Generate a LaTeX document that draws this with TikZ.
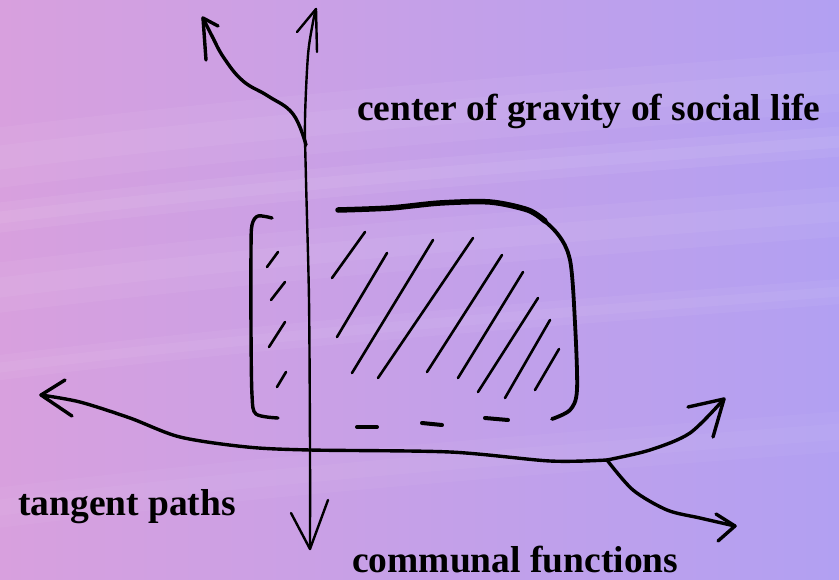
\documentclass[tikz,border=0pt]{standalone}
\usepackage{fontspec}
\setmainfont{Liberation Serif}
\begin{document}
\begin{tikzpicture}[x=1pt,y=-1pt,
  ink/.style={line width=3.4pt,line cap=round,line join=round,black},
  axisink/.style={line width=2.4pt,line cap=round,line join=round,black},
  heavy/.style={line width=5.5pt,line cap=round,line join=round,black},
  hatch/.style={line width=2.6pt,line cap=round,black},
  lbl/.style={inner sep=0pt,anchor=base west,font=\fontsize{37.5}{44}\selectfont\bfseries},
  streak/.style={white,line cap=round}]
% background
\shade[left color={rgb,255:red,216;green,160;blue,222},right color={rgb,255:red,178;green,160;blue,242}] (0,0) rectangle (839,579);
\useasboundingbox (0,0) rectangle (839,579);
\foreach \yy/\w/\o in {120/60/0.05,180/30/0.06,250/50/0.05,330/25/0.05,470/40/0.04}{
  \draw[streak,line width=\w pt,opacity=\o] (-20,\yy+40) .. controls (300,\yy) and (600,\yy-20) .. (860,\yy-40);
  \draw[streak,line width=\w*0.4 pt,opacity=\o] (-20,\yy+40) .. controls (300,\yy) and (600,\yy-20) .. (860,\yy-40);
}
% named points
\coordinate (vbot) at (310,549);
\coordinate (vtop) at (316,9);
\coordinate (split) at (306,145);
\coordinate (ltip) at (203,18);
\coordinate (htipL) at (41,395);
\coordinate (fork) at (607,460);
\coordinate (uptip) at (724,399);
\coordinate (dntip) at (735,526);
% vertical axis
\draw[axisink] plot[smooth] coordinates {(vbot) (310,450) (309,300) (306,180) (305,120) (308,55) (313,22) (vtop)};
\draw[axisink] (297,32) -- (vtop) -- (317,52);
\draw[axisink] (291,513) -- (vbot) -- (328,500);
% left branch on top
\draw[ink] plot[smooth,tension=0.7] coordinates {(split) (293,114) (268,96) (243,81) (224,58) (212,36) (ltip)};
\draw[ink] (218,26) -- (ltip) -- (206,60);
% horizontal line
\draw[ink] plot[smooth] coordinates {(htipL) (80,402) (130,418) (180,437) (247,447) (310,450) (450,452) (550,461) (fork)};
\draw[ink] (65,380) -- (htipL) -- (72,416);
\draw[ink] plot[smooth] coordinates {(fork) (650,450) (690,433) (uptip)};
\draw[ink] (688,407) -- (uptip) -- (713,437);
\draw[ink] plot[smooth] coordinates {(fork) (633,490) (667,510) (700,518) (dntip)};
\draw[ink] (716,514) -- (dntip) -- (718,541);
% box: left bracket
\draw[ink] plot[smooth] coordinates {(272,218) (258,216) (252,225) (251,250) (251,330) (252,395) (256,414) (278,418)};
% box: top and right
\draw[ink,line width=3.8pt] plot[smooth] coordinates {(338,210) (390,208) (440,203) (490,202) (528,210) (556,232) (570,260) (575,323) (577,390) (570,410) (552,419)};
\draw[heavy] plot[smooth] coordinates {(338,210) (390,208) (440,203) (490,202) (528,210) (545,221)};
% bottom dashes
\draw[heavy,line width=4pt] (357,427) -- (377,427);
\draw[heavy,line width=4pt] (422,423) -- (442,425);
\draw[heavy,line width=4pt] (485,418) -- (508,420);
% left hatches
\draw[hatch] (267,267) -- (278,252);
\draw[hatch] (271,300) -- (285,282);
\draw[hatch] (269,347) -- (285,322);
\draw[hatch] (277,387) -- (286,372);
% right hatches
\draw[hatch] (332,278) -- (365,232);
\draw[hatch] (337,337) -- (387,253);
\draw[hatch] (352,373) -- (433,240);
\draw[hatch] (378,378) -- (473,238);
\draw[hatch] (427,372) -- (502,255);
\draw[hatch] (458,378) -- (523,272);
\draw[hatch] (478,392) -- (538,298);
\draw[hatch] (505,398) -- (550,320);
\draw[hatch] (535,390) -- (559,349);
% labels
\node[lbl] (center) at (357,120) {center of gravity of social life};
\node[lbl] (tangent) at (18,515) {tangent paths};
\node[lbl] (communal) at (352,572) {communal functions};
\end{tikzpicture}
\end{document}
